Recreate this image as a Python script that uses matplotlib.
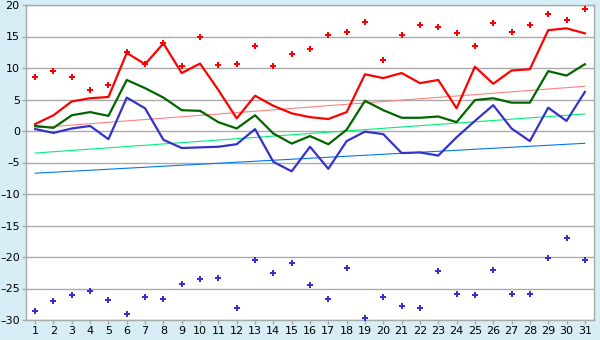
import matplotlib
matplotlib.use("Agg")
from matplotlib import pyplot as plt

# Days of the month
days = list(range(1, 32))

# Daily maximum / mean / minimum temperatures
t_max = [1.1, 2.5, 4.7, 5.2, 5.4, 12.4, 10.6, 13.9, 9.2, 10.7, 6.5, 2.0, 5.6, 4.0, 2.8,
         2.2, 1.9, 3.0, 9.0, 8.4, 9.2, 7.6, 8.1, 3.6, 10.2, 7.5, 9.6, 9.8, 16.0, 16.3, 15.5]
t_mean = [0.8, 0.5, 2.5, 3.0, 2.4, 8.1, 6.8, 5.3, 3.3, 3.2, 1.4, 0.4, 2.5, -0.4, -2.0,
          -0.8, -2.1, 0.2, 4.8, 3.3, 2.1, 2.1, 2.3, 1.4, 4.9, 5.2, 4.5, 4.5, 9.5, 8.8, 10.6]
t_min = [0.3, -0.3, 0.4, 0.8, -1.3, 5.3, 3.6, -1.4, -2.7, -2.6, -2.5, -2.1, 0.3, -4.9, -6.4,
         -2.5, -6.0, -1.6, -0.1, -0.5, -3.5, -3.4, -3.9, -1.0, 1.6, 4.1, 0.4, -1.6, 3.7, 1.6, 6.2]

# Record highs / lows
rec_max = [8.5, 9.5, 8.5, 6.5, 7.3, 12.6, 10.6, 13.9, 10.3, 14.9, 10.4, 10.7, 13.5, 10.3, 12.2,
           13.0, 15.2, 15.7, 17.3, 11.2, 15.3, 16.8, 16.5, 15.5, 13.5, 17.1, 15.7, 16.8, 18.5, 17.6, 19.3]
rec_min = [-28.6, -27.0, -26.1, -25.4, -26.9, -29.1, -26.4, -26.7, -24.3, -23.5, -23.4, -28.1,
           -20.5, -22.6, -21.0, -24.5, -26.7, -21.8, -29.7, -26.4, -27.8, -28.1, -22.3, -25.9,
           -26.1, -22.1, -25.9, -25.9, -20.2, -17.0, -20.4]

# Normal (trend) lines, start and end of month
trend_days = [1, 31]
norm_max = [0.5, 7.1]
norm_mean = [-3.5, 2.7]
norm_min = [-6.7, -1.95]

bg = "#d7eef6"
grid = "#aaaaaa"

fig = plt.figure(figsize=(6, 3.4), dpi=100, facecolor=bg)
ax = fig.add_axes([26 / 600, 20 / 340, 568 / 600, 315 / 340])
ax.set_facecolor("white")

ax.plot(trend_days, norm_max, color="#ff7f7f", lw=0.8, zorder=2)
ax.plot(trend_days, norm_mean, color="#00ee77", lw=0.8, zorder=2)
ax.plot(trend_days, norm_min, color="#0077ee", lw=0.8, zorder=2)

ax.plot(days, t_max, color="#ff0000", lw=1.6, zorder=3)
ax.plot(days, t_mean, color="#006600", lw=1.6, zorder=3)
ax.plot(days, t_min, color="#3333cc", lw=1.6, zorder=3)

ax.plot(days, rec_max, ls="none", marker="P", ms=5, color="#ff0000", mew=0, zorder=4)
ax.plot(days, rec_min, ls="none", marker="P", ms=5, color="#3333cc", mew=0, zorder=4)

ax.set_xlim(0.5, 31.5)
ax.set_ylim(-30, 20)
ax.set_xticks(days)
ax.set_yticks(range(-30, 21, 5))
ax.set_yticklabels([str(v).replace("-", "\u2013") for v in range(-30, 21, 5)])
ax.yaxis.grid(True, color=grid, lw=1)
ax.set_axisbelow(True)
for s in ax.spines.values():
    s.set_color(grid)
    s.set_linewidth(1)
ax.tick_params(axis="both", colors=grid, labelcolor="black", labelsize=8,
               length=3, width=1, pad=1.5)

fig.savefig("out.png", dpi=100, facecolor=bg)
